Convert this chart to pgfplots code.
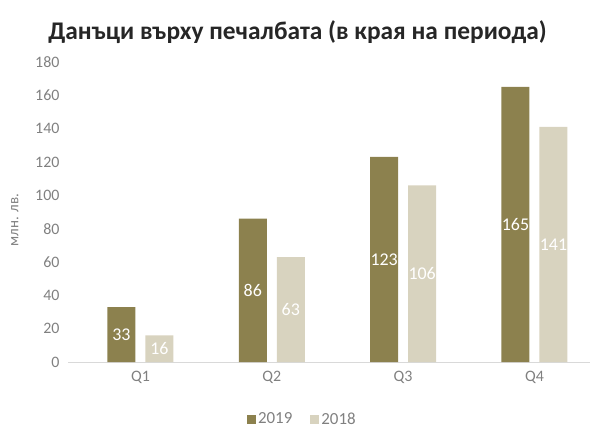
\documentclass[border=0pt]{standalone}
\usepackage{fontspec}
\setmainfont{Carlito}
\usepackage{pgfplots}
\pgfplotsset{compat=1.18}
\definecolor{c2019}{HTML}{8C814E}
\definecolor{c2018}{HTML}{D8D3BF}
\definecolor{tickgray}{HTML}{808080}
\definecolor{titlegray}{HTML}{262626}
\definecolor{axisgray}{HTML}{D9D9D9}
\begin{document}
\begin{tikzpicture}[x=1bp,y=1bp]
\path[use as bounding box] (0,0) rectangle (594,430);
\node[font=\fontsize{25.5}{29}\selectfont\bfseries, text=titlegray] at (297.5,398) {Данъци върху печалбата (в края на периода)};
\begin{axis}[
  at={(68bp,68bp)}, anchor=south west,
  scale only axis, width=522bp, height=300bp,
  ybar=10bp, bar width=28bp,
  xmin=-0.552, xmax=3.423,
  ymin=0, ymax=180,
  xtick={0,1,2,3}, xticklabels={Q1,Q2,Q3,Q4},
  ytick={0,20,...,180},
  major tick length=0pt,
  axis x line*=bottom, axis y line*=left,
  x axis line style={draw=axisgray, line width=0.8bp},
  y axis line style={draw=none},
  /pgf/number format/assume math mode=true,
  tick label style={font=\fontsize{16}{18}\selectfont, text=tickgray},
  yticklabel style={anchor=east, xshift=-5bp},
  xticklabel style={yshift=-6bp},
  ylabel={млн. лв.},
  ylabel style={at={(axis description cs:-0.102,0.473)}, anchor=center, font=\fontsize{15}{17}\selectfont, text=tickgray},
  nodes near coords,
  visualization depends on=y \as \rawy,
  every node near coord/.append style={anchor=center, yshift=-\rawy*0.83333bp, text=white, font=\fontsize{18}{20}\selectfont},
]
\addplot[fill=c2019, draw=none] coordinates {(0,33) (1,86) (2,123) (3,165)};
\addplot[fill=c2018, draw=none] coordinates {(0,16) (1,63) (2,106) (3,141)};
\end{axis}
\begin{axis}[
  at={(68bp,68bp)}, anchor=south west,
  scale only axis, width=522bp, height=300bp,
  hide axis, xmin=0, xmax=1, ymin=0, ymax=1,
  legend style={at={(axis description cs:0.449,-0.19)}, anchor=center, draw=none, fill=none, legend columns=2, font=\fontsize{17}{19}\selectfont, text=tickgray, /tikz/every even column/.append style={column sep=16bp}},
  legend image code/.code={\fill[#1] (0bp,-4.5bp) rectangle (9bp,4.5bp);},
]
\addlegendimage{fill=c2019, draw=none}
\addlegendentry{2019}
\addlegendimage{fill=c2018, draw=none}
\addlegendentry{2018}
\end{axis}
\end{tikzpicture}
\end{document}
